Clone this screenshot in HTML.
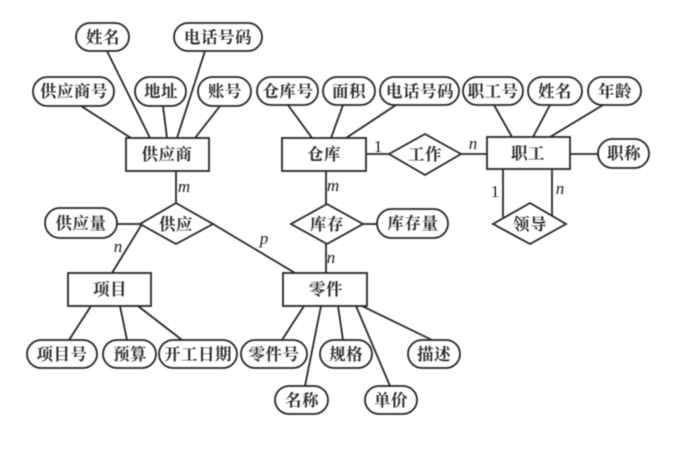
<!DOCTYPE html>
<html><head><meta charset="utf-8"><style>
html,body{margin:0;padding:0;background:#fff;width:679px;height:456px;overflow:hidden}
svg{display:block;filter:blur(.5px)}
.l line,.l rect,.l polygon{stroke:#262626;stroke-width:1.8;fill:#fff}
.t text{font-family:"Liberation Serif","Noto Serif CJK SC",serif;font-size:16.5px;font-weight:700;fill:#2b2b2b;text-anchor:middle;letter-spacing:.5px}
.i text{font-family:"Liberation Serif",serif;font-size:17px;fill:#1f1f1f;text-anchor:middle}
.i .e{font-style:italic}
</style></head><body>
<svg width="679" height="456" viewBox="0 0 679 456" xmlns="http://www.w3.org/2000/svg">
<g class="l">
<line x1="107" y1="51" x2="150" y2="138"/><line x1="205" y1="51" x2="177" y2="138"/><line x1="81" y1="106" x2="131" y2="138"/><line x1="163" y1="106" x2="167" y2="138"/><line x1="220" y1="106" x2="195" y2="138"/>
<line x1="176" y1="171" x2="176" y2="204"/>
<line x1="117" y1="224" x2="142" y2="224"/><line x1="142" y1="224" x2="112" y2="273"/><line x1="213" y1="224" x2="295" y2="273"/>
<line x1="91" y1="306" x2="69" y2="340"/><line x1="120" y1="306" x2="127" y2="340"/><line x1="138" y1="306" x2="182" y2="340"/>
<line x1="288" y1="105" x2="312" y2="138"/><line x1="343" y1="105" x2="331" y2="138"/><line x1="396" y1="105" x2="346" y2="138"/>
<line x1="494" y1="105" x2="512" y2="137"/><line x1="550" y1="105" x2="533" y2="137"/><line x1="603" y1="105" x2="550" y2="137"/>
<line x1="366" y1="154" x2="389" y2="154"/><line x1="461" y1="154" x2="487" y2="154"/><line x1="570" y1="154" x2="598" y2="154"/>
<line x1="326" y1="171" x2="326" y2="204"/><line x1="326" y1="244" x2="326" y2="273"/><line x1="363" y1="224" x2="377" y2="224"/>
<line x1="503" y1="169" x2="503" y2="217"/><line x1="552" y1="169" x2="552" y2="216"/>
<line x1="304" y1="306" x2="282" y2="340"/><line x1="321" y1="306" x2="305" y2="386"/><line x1="338" y1="306" x2="343" y2="340"/><line x1="356" y1="306" x2="390" y2="386"/><line x1="362" y1="306" x2="432" y2="340"/>
<rect x="126" y="138" width="83" height="33"/><rect x="282" y="138" width="84" height="33"/><rect x="487" y="137" width="83" height="32"/><rect x="68" y="273" width="83" height="33"/><rect x="283" y="273" width="84" height="33"/>
<polygon points="176,203 213,224 176,244 140,224"/><polygon points="425,134 461,154 425,175 389,154"/><polygon points="327,204 363,224 327,244 291,224"/><polygon points="530,203 566,224 530,244 493,224"/>
<rect x="76" y="23" width="53" height="28" rx="14"/><rect x="174" y="23" width="88" height="28" rx="14"/>
<rect x="33" y="77" width="81" height="29" rx="14.5"/><rect x="135" y="77" width="51" height="29" rx="14.5"/><rect x="198" y="77" width="53" height="29" rx="14.5"/>
<rect x="257" y="77" width="61" height="28" rx="14"/><rect x="323" y="77" width="52" height="28" rx="14"/><rect x="380" y="77" width="79" height="28" rx="14"/><rect x="463" y="77" width="60" height="28" rx="14"/><rect x="528" y="77" width="54" height="28" rx="14"/><rect x="588" y="77" width="53" height="28" rx="14"/>
<rect x="598" y="139" width="51" height="29" rx="14.5"/><rect x="45" y="208" width="72" height="30" rx="15"/><rect x="377" y="209" width="71" height="29" rx="14.5"/>
<rect x="27" y="340" width="70" height="28" rx="14"/><rect x="103" y="340" width="53" height="28" rx="14"/><rect x="159" y="340" width="78" height="28" rx="14"/><rect x="241" y="340" width="66" height="28" rx="14"/><rect x="320" y="340" width="52" height="28" rx="14"/><rect x="408" y="340" width="52" height="28" rx="14"/>
<rect x="275" y="386" width="53" height="28" rx="14"/><rect x="365" y="386" width="52" height="28" rx="14"/>
</g>
<g class="t">
<text x="103" y="43">姓名</text><text x="218" y="43">电话号码</text>
<text x="74" y="97">供应商号</text><text x="161" y="97">地址</text><text x="225" y="97">账号</text>
<text x="288" y="97">仓库号</text><text x="349" y="97">面积</text><text x="420" y="97">电话号码</text><text x="493" y="97">职工号</text><text x="555" y="97">姓名</text><text x="615" y="97">年龄</text>
<text x="167" y="160">供应商</text><text x="324" y="160">仓库</text><text x="425" y="160">工作</text><text x="528" y="159">职工</text><text x="624" y="159">职称</text>
<text x="81" y="229">供应量</text><text x="176" y="230">供应</text><text x="327" y="230">库存</text><text x="413" y="229">库存量</text><text x="530" y="230">领导</text>
<text x="110" y="295">项目</text><text x="326" y="295">零件</text>
<text x="62" y="360">项目号</text><text x="130" y="360">预算</text><text x="198" y="360">开工日期</text><text x="274" y="360">零件号</text><text x="346" y="360">规格</text><text x="434" y="360">描述</text>
<text x="302" y="406">名称</text><text x="391" y="406">单价</text>
</g>
<g class="i">
<text class="e" x="184" y="192">m</text><text class="e" x="118" y="252">n</text><text class="e" x="264" y="244">p</text>
<text x="378" y="152">1</text><text class="e" x="473" y="149">n</text><text class="e" x="333" y="191">m</text><text class="e" x="331" y="263">n</text>
<text x="495" y="197">1</text><text class="e" x="560" y="194">n</text>
</g>
</svg>
</body></html>
